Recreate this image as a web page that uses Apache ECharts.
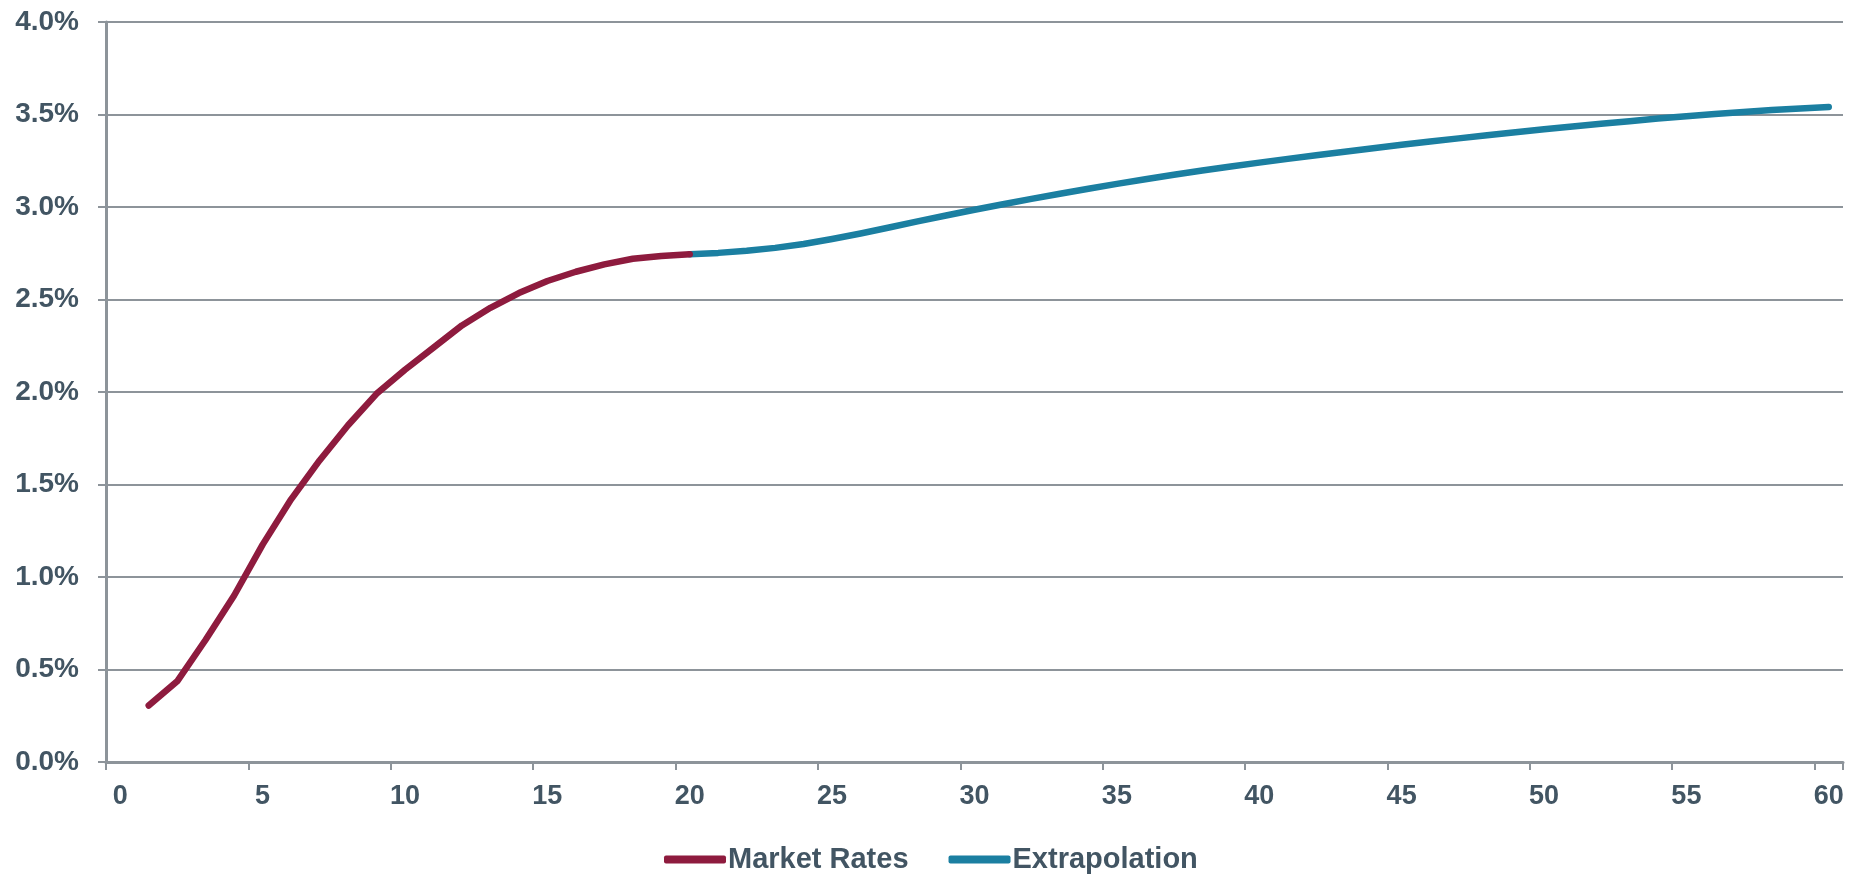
<!DOCTYPE html>
<html>
<head>
<meta charset="utf-8">
<title>Yield Curve</title>
<script src="https://cdn.jsdelivr.net/npm/echarts@6/dist/echarts.min.js"></script>
<style>
  html, body { margin: 0; padding: 0; background: #ffffff; }
  #chart { width: 1861px; height: 874px; }
</style>
</head>
<body>
<div id="chart"></div>
<script>
// Maturity buckets shown on the x axis (years)
const terms = Array.from({ length: 61 }, (_, i) => String(i));

// Market-observed rates, in percent, maturities 1..20
const marketTerms = [1, 2, 3, 4, 5, 6, 7, 8, 9, 10, 11, 12, 13, 14, 15, 16, 17, 18, 19, 20];
const marketRates = [0.305, 0.436, 0.661, 0.90, 1.175, 1.42, 1.63, 1.82, 1.99, 2.12,
                     2.24, 2.36, 2.455, 2.535, 2.60, 2.65, 2.69, 2.72, 2.735, 2.745];

// Extrapolated rates, in percent, maturities 20..60
const extrapTerms = [20, 21, 22, 23, 24, 25, 26, 27, 28, 29, 30, 31, 32, 33, 34, 35, 36, 37, 38, 39, 40,
                     41, 42, 43, 44, 45, 46, 47, 48, 49, 50, 51, 52, 53, 54, 55, 56, 57, 58, 59, 60];
const extrapRates = [2.745, 2.752, 2.763, 2.779, 2.800, 2.827, 2.857, 2.889, 2.922, 2.954, 2.985,
                     3.015, 3.044, 3.072, 3.099, 3.125, 3.150, 3.174, 3.197, 3.219, 3.240,
                     3.260, 3.280, 3.299, 3.318, 3.336, 3.354, 3.371, 3.388, 3.404, 3.420,
                     3.435, 3.450, 3.464, 3.478, 3.491, 3.503, 3.514, 3.524, 3.533, 3.541];

const seriesNames = ['Market Rates', 'Extrapolation'];
const seriesColors = ['#8e1b3e', '#1b7fa1'];

const textColor = '#425563';
const lineGray = '#8d949a';
const fontFamily = '"Liberation Sans", Arial, Helvetica, sans-serif';

const pairs = (xs, ys) => xs.map((x, i) => [String(x), ys[i]]);

const chart = echarts.init(document.getElementById('chart'), null, { renderer: 'canvas' });

chart.setOption({
  animation: false,
  backgroundColor: '#ffffff',
  grid: { left: 106, right: 18, top: 22, bottom: 112, containLabel: false, outerBoundsMode: 'none' },
  legend: {
    left: 659,
    top: 840,
    itemWidth: 62,
    itemHeight: 8,
    itemGap: 40,
    icon: 'roundRect',
    data: seriesNames,
    textStyle: {
      color: textColor,
      fontSize: 29,
      fontWeight: 'bold',
      fontFamily: fontFamily,
      padding: [0, 0, 0, -3]
    }
  },
  xAxis: {
    type: 'category',
    data: terms,
    boundaryGap: true,
    axisLine: { show: true, lineStyle: { color: lineGray, width: 3 } },
    axisTick: {
      show: true,
      interval: 4,
      length: 8,
      alignWithLabel: false,
      lineStyle: { color: lineGray, width: 2 }
    },
    axisLabel: {
      interval: 4,
      margin: 21,
      color: textColor,
      fontSize: 27,
      fontWeight: 'bold',
      fontFamily: fontFamily
    },
    splitLine: { show: false }
  },
  yAxis: {
    type: 'value',
    min: 0,
    max: 4,
    interval: 0.5,
    axisLine: { show: true, lineStyle: { color: lineGray, width: 3 } },
    axisTick: { show: true, length: 8, lineStyle: { color: lineGray, width: 2 } },
    axisLabel: {
      margin: 27,
      color: textColor,
      fontSize: 28,
      fontWeight: 'bold',
      fontFamily: fontFamily,
      overflow: 'none',
      formatter: v => v.toFixed(1) + '%'
    },
    splitLine: { show: true, lineStyle: { color: lineGray, width: 2 } }
  },
  series: [
    {
      name: seriesNames[0],
      type: 'line',
      data: pairs(marketTerms, marketRates),
      symbol: 'none',
      smooth: false,
      color: seriesColors[0],
      lineStyle: { width: 6.5, color: seriesColors[0], cap: 'round', join: 'round' },
      z: 3
    },
    {
      name: seriesNames[1],
      type: 'line',
      data: pairs(extrapTerms, extrapRates),
      symbol: 'none',
      smooth: false,
      color: seriesColors[1],
      lineStyle: { width: 6.5, color: seriesColors[1], cap: 'round', join: 'round' },
      z: 2
    }
  ]
});
</script>
</body>
</html>
